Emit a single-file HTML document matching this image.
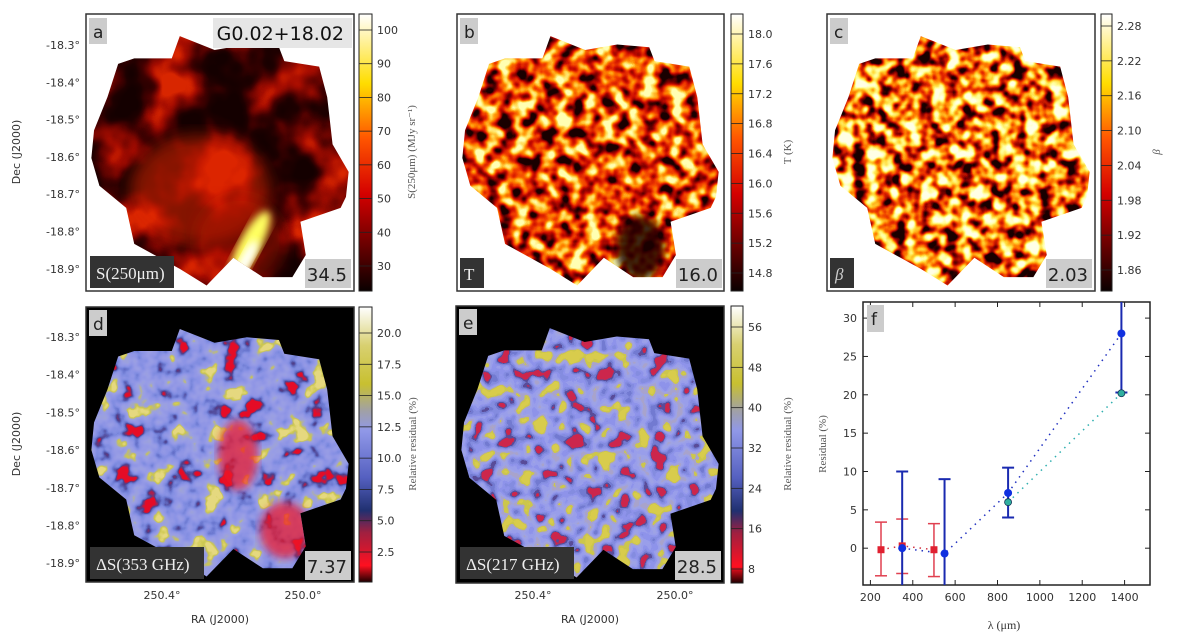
<!DOCTYPE html>
<html><head><meta charset="utf-8"><style>
body{margin:0;background:#fff;width:1200px;height:636px;overflow:hidden}
svg text{font-family:"DejaVu Sans","Liberation Sans",sans-serif}
.tk{font-size:11px;fill:#333}
.serif{font-family:"Liberation Serif","DejaVu Serif",serif}
</style></head><body>
<svg id="fig" width="1200" height="636" viewBox="0 0 1200 636" xmlns="http://www.w3.org/2000/svg">
<defs>
<clipPath id="cloud" clipPathUnits="objectBoundingBox">
<polygon points="0.03,0.42 0.08,0.3 0.12,0.18 0.18,0.16 0.32,0.16 0.35,0.08 0.48,0.13 0.6,0.11 0.72,0.12 0.74,0.17 0.87,0.19 0.9,0.3 0.92,0.47 0.98,0.57 0.97,0.66 0.95,0.70 0.80,0.75 0.82,0.87 0.77,0.95 0.66,0.95 0.55,0.88 0.45,0.98 0.35,0.92 0.18,0.83 0.15,0.70 0.05,0.62 0.02,0.52"/>
</clipPath>
<filter id="fa" x="0" y="0" width="1" height="1" color-interpolation-filters="sRGB">
<feTurbulence type="fractalNoise" baseFrequency="0.02" numOctaves="3" seed="4"/>
<feColorMatrix type="matrix" values="1 0 0 0 0 1 0 0 0 0 1 0 0 0 0 0 0 0 0 1"/>
<feComponentTransfer><feFuncR type="linear" slope="2.2" intercept="-0.65"/><feFuncG type="linear" slope="2.2" intercept="-0.65"/><feFuncB type="linear" slope="2.2" intercept="-0.65"/></feComponentTransfer>
<feComponentTransfer><feFuncR type="table" tableValues="0.08 0.12 0.25 0.45 0.65 0.85"/><feFuncG type="table" tableValues="0 0 0 0.02 0.05 0.15"/><feFuncB type="table" tableValues="0 0 0 0 0 0"/></feComponentTransfer>
</filter>
<filter id="fb" x="0" y="0" width="1" height="1" color-interpolation-filters="sRGB">
<feTurbulence type="fractalNoise" baseFrequency="0.07" numOctaves="2" seed="7"/>
<feColorMatrix type="matrix" values="1 0 0 0 0 1 0 0 0 0 1 0 0 0 0 0 0 0 0 1"/>
<feComponentTransfer><feFuncR type="linear" slope="2.4" intercept="-0.7"/><feFuncG type="linear" slope="2.4" intercept="-0.7"/><feFuncB type="linear" slope="2.4" intercept="-0.7"/></feComponentTransfer>
<feComponentTransfer><feFuncR type="table" tableValues="0.1 0.5 0.8 0.95 1 1 1"/><feFuncG type="table" tableValues="0 0 0.05 0.25 0.55 0.85 1"/><feFuncB type="table" tableValues="0 0 0 0 0 0.3 0.7"/></feComponentTransfer>
</filter>
<filter id="fc" x="0" y="0" width="1" height="1" color-interpolation-filters="sRGB">
<feTurbulence type="fractalNoise" baseFrequency="0.075" numOctaves="2" seed="11"/>
<feColorMatrix type="matrix" values="1 0 0 0 0 1 0 0 0 0 1 0 0 0 0 0 0 0 0 1"/>
<feComponentTransfer><feFuncR type="linear" slope="2.4" intercept="-0.72"/><feFuncG type="linear" slope="2.4" intercept="-0.72"/><feFuncB type="linear" slope="2.4" intercept="-0.72"/></feComponentTransfer>
<feComponentTransfer><feFuncR type="table" tableValues="0.1 0.55 0.9 1 1 1 1"/><feFuncG type="table" tableValues="0 0 0.15 0.5 0.85 1 1"/><feFuncB type="table" tableValues="0 0 0 0 0.2 0.6 0.9"/></feComponentTransfer>
</filter>
<filter id="fd" x="0" y="0" width="1" height="1" color-interpolation-filters="sRGB">
<feTurbulence type="fractalNoise" baseFrequency="0.045" numOctaves="3" seed="2"/>
<feColorMatrix type="matrix" values="1 0 0 0 0 1 0 0 0 0 1 0 0 0 0 0 0 0 0 1"/>
<feComponentTransfer><feFuncR type="linear" slope="2.2" intercept="-0.6"/><feFuncG type="linear" slope="2.2" intercept="-0.6"/><feFuncB type="linear" slope="2.2" intercept="-0.6"/></feComponentTransfer>
<feComponentTransfer><feFuncR type="table" tableValues="0.9 0.3 0.4 0.5 0.55 0.58 0.6 0.62 0.8 0.9"/><feFuncG type="table" tableValues="0.05 0.25 0.45 0.55 0.58 0.6 0.62 0.64 0.78 0.85"/><feFuncB type="table" tableValues="0.15 0.55 0.8 0.88 0.9 0.9 0.9 0.85 0.3 0.5"/></feComponentTransfer>
</filter>
<filter id="fe" x="0" y="0" width="1" height="1" color-interpolation-filters="sRGB">
<feTurbulence type="fractalNoise" baseFrequency="0.06" numOctaves="2" seed="9"/>
<feColorMatrix type="matrix" values="1 0 0 0 0 1 0 0 0 0 1 0 0 0 0 0 0 0 0 1"/>
<feComponentTransfer><feFuncR type="linear" slope="2.2" intercept="-0.6"/><feFuncG type="linear" slope="2.2" intercept="-0.6"/><feFuncB type="linear" slope="2.2" intercept="-0.6"/></feComponentTransfer>
<feComponentTransfer><feFuncR type="discrete" tableValues="0.8 0.35 0.45 0.52 0.56 0.6 0.62 0.66 0.8 0.85"/><feFuncG type="discrete" tableValues="0.15 0.3 0.48 0.55 0.58 0.62 0.64 0.64 0.78 0.8"/><feFuncB type="discrete" tableValues="0.3 0.6 0.82 0.88 0.92 0.92 0.9 0.8 0.3 0.3"/></feComponentTransfer>
</filter>
<filter id="blur8"><feGaussianBlur stdDeviation="8"/></filter>
<filter id="blur4"><feGaussianBlur stdDeviation="4"/></filter>
<linearGradient id="ghot" x1="0" y1="1" x2="0" y2="0">
<stop offset="0" stop-color="#0a0000"/><stop offset="0.35" stop-color="#d40000"/><stop offset="0.55" stop-color="#ff5500"/><stop offset="0.75" stop-color="#ffdd00"/><stop offset="1" stop-color="#ffffff"/></linearGradient>
<linearGradient id="gres" x1="0" y1="1" x2="0" y2="0">
<stop offset="0" stop-color="#200000"/><stop offset="0.06" stop-color="#ff1020"/><stop offset="0.18" stop-color="#a02040"/><stop offset="0.26" stop-color="#203070"/><stop offset="0.38" stop-color="#5560c0"/><stop offset="0.55" stop-color="#9098e8"/><stop offset="0.62" stop-color="#a0a0a8"/><stop offset="0.72" stop-color="#c8c030"/><stop offset="0.86" stop-color="#d8d070"/><stop offset="1" stop-color="#ffffff"/></linearGradient>
</defs>

<!-- Panel a -->
<g>
<rect x="86" y="14" width="268" height="277" fill="#fff" stroke="#333" stroke-width="1.5"/>
<g clip-path="url(#cloud)">
<rect x="86" y="14" width="268" height="277" filter="url(#fa)"/>
<ellipse cx="200" cy="190" rx="70" ry="55" fill="#e02800" opacity="0.55" filter="url(#blur8)"/>
<ellipse cx="240" cy="240" rx="45" ry="45" fill="#c01800" opacity="0.45" filter="url(#blur8)"/>
<ellipse cx="250" cy="245" rx="11" ry="38" transform="rotate(28 250 245)" fill="#ffff60" filter="url(#blur4)"/>
<ellipse cx="246" cy="260" rx="6" ry="22" transform="rotate(28 246 260)" fill="#ffffff" filter="url(#blur4)"/>
</g>
<rect x="89" y="18" width="18" height="26" fill="#ccc"/><text x="93" y="38" font-size="17" fill="#222">a</text>
<rect x="213" y="18" width="139" height="30" fill="#e6e6e6"/><text x="344" y="40" font-size="19" fill="#111" text-anchor="end">G0.02+18.02</text>
<rect x="90" y="256" width="84" height="32" fill="#333"/><text x="96" y="279" font-size="17" fill="#eee" class="serif">S(250μm)</text>
<rect x="305" y="259" width="46" height="29" fill="#ccc"/><text x="347" y="281" font-size="18" fill="#222" text-anchor="end">34.5</text>
</g>
<!-- Panel b -->
<g>
<rect x="457" y="14" width="267" height="277" fill="#fff" stroke="#333" stroke-width="1.5"/>
<g clip-path="url(#cloud)"><rect x="457" y="14" width="267" height="277" filter="url(#fb)"/>
<ellipse cx="640" cy="248" rx="24" ry="32" fill="#1a0000" opacity="0.85" filter="url(#blur4)"/></g>
<rect x="460" y="18" width="18" height="26" fill="#ccc"/><text x="464" y="38" font-size="17" fill="#222">b</text>
<rect x="460" y="258" width="24" height="30" fill="#333"/><text x="464" y="280" font-size="17" fill="#eee" class="serif">T</text>
<rect x="676" y="259" width="46" height="29" fill="#ccc"/><text x="718" y="281" font-size="18" fill="#222" text-anchor="end">16.0</text>
</g>
<!-- Panel c -->
<g>
<rect x="827" y="14" width="268" height="277" fill="#fff" stroke="#333" stroke-width="1.5"/>
<g clip-path="url(#cloud)"><rect x="827" y="14" width="268" height="277" filter="url(#fc)"/></g>
<rect x="830" y="18" width="18" height="26" fill="#ccc"/><text x="834" y="38" font-size="17" fill="#222">c</text>
<rect x="830" y="258" width="24" height="30" fill="#333"/><text x="835" y="280" font-size="17" fill="#ccc" class="serif" font-style="italic">β</text>
<rect x="1046" y="259" width="46" height="29" fill="#ccc"/><text x="1088" y="281" font-size="18" fill="#222" text-anchor="end">2.03</text>
</g>
<!-- Panel d -->
<g>
<rect x="86" y="307" width="268" height="275" fill="#000" stroke="#333" stroke-width="1.5"/>
<g clip-path="url(#cloud)"><rect x="86" y="307" width="268" height="275" filter="url(#fd)"/>
<ellipse cx="238" cy="455" rx="20" ry="35" fill="#f01828" opacity="0.7" filter="url(#blur4)"/>
<ellipse cx="285" cy="530" rx="25" ry="28" fill="#f01828" opacity="0.7" filter="url(#blur4)"/></g>
<rect x="89" y="310" width="18" height="26" fill="#ccc"/><text x="93" y="330" font-size="17" fill="#222">d</text>
<rect x="90" y="547" width="114" height="32" fill="#333"/><text x="96" y="570" font-size="17" fill="#eee" class="serif">ΔS(353 GHz)</text>
<rect x="305" y="551" width="46" height="29" fill="#ccc"/><text x="347" y="573" font-size="18" fill="#222" text-anchor="end">7.37</text>
</g>
<!-- Panel e -->
<g>
<rect x="456" y="306" width="268" height="277" fill="#000" stroke="#333" stroke-width="1.5"/>
<g clip-path="url(#cloud)"><rect x="456" y="306" width="268" height="277" filter="url(#fe)"/></g>
<rect x="459" y="309" width="18" height="26" fill="#ccc"/><text x="463" y="329" font-size="17" fill="#222">e</text>
<rect x="460" y="547" width="114" height="32" fill="#333"/><text x="466" y="570" font-size="17" fill="#eee" class="serif">ΔS(217 GHz)</text>
<rect x="675" y="551" width="46" height="29" fill="#ccc"/><text x="717" y="573" font-size="18" fill="#222" text-anchor="end">28.5</text>
</g>

<!-- colorbars -->
<rect x="359" y="14" width="13" height="277" fill="url(#ghot)" stroke="#222"/>
<rect x="731" y="14" width="12" height="277" fill="url(#ghot)" stroke="#222"/>
<rect x="1101" y="14" width="11" height="277" fill="url(#ghot)" stroke="#222"/>
<rect x="359" y="307" width="13" height="275" fill="url(#gres)" stroke="#222"/>
<rect x="731" y="306" width="12" height="277" fill="url(#gres)" stroke="#222"/>
<g id="cbticks"></g>
<g id="axlabels"></g>

<text transform="translate(415,152) rotate(-90)" font-size="11" fill="#555" text-anchor="middle" class="serif">S(250μm) (MJy sr⁻¹)</text>
<text transform="translate(791,152) rotate(-90)" font-size="11" fill="#555" text-anchor="middle" class="serif">T (K)</text>
<text transform="translate(1160,152) rotate(-90)" font-size="11" fill="#555" text-anchor="middle" class="serif" font-style="italic">β</text>
<text transform="translate(416,444) rotate(-90)" font-size="11" fill="#555" text-anchor="middle" class="serif">Relative residual (%)</text>
<text transform="translate(791,444) rotate(-90)" font-size="11" fill="#555" text-anchor="middle" class="serif">Relative residual (%)</text>
<text transform="translate(20,152) rotate(-90)" font-size="11" fill="#333" text-anchor="middle">Dec (J2000)</text>
<text transform="translate(20,444) rotate(-90)" font-size="11" fill="#333" text-anchor="middle">Dec (J2000)</text>
<text x="220" y="623" font-size="11" fill="#333" text-anchor="middle">RA (J2000)</text>
<text x="590" y="623" font-size="11" fill="#333" text-anchor="middle">RA (J2000)</text>

<!-- Panel f -->
<g id="pf"></g>
</svg>
<script>
const NS='http://www.w3.org/2000/svg';
function mk(tag,attrs,parent,txt){const e=document.createElementNS(NS,tag);for(const k in attrs)e.setAttribute(k,attrs[k]);if(txt!==undefined)e.textContent=txt;parent.appendChild(e);return e;}
// colorbar ticks
const cbS=['30','40','50','60','70','80','90','100'];
const cbT=['14.8','15.2','15.6','16.0','16.4','16.8','17.2','17.6','18.0'];
const cbB=['1.86','1.92','1.98','2.04','2.10','2.16','2.22','2.28'];
const cbD=['2.5','5.0','7.5','10.0','12.5','15.0','17.5','20.0'];
const cbE=['8','16','24','32','40','48','56'];
const cbg=document.getElementById('cbticks');
function cbar(labels,x,w,y0,y1,nm){
  labels.forEach((l,i)=>{const y=y0+(y1-y0)*i/(labels.length-1);
    const ln=mk('line',{x1:x,x2:x+w,y1:y,y2:y,stroke:'#222','stroke-width':0.8},cbg);
    
    
    const t=mk('text',{x:x+w+5,y:y+4,class:'tk'},cbg,l);
    
    });
}
cbar(cbS,359,13,266,30,'colorbar-s250');
cbar(cbT,731,12,273,34,'colorbar-temperature');
cbar(cbB,1101,11,270,26,'colorbar-beta');
cbar(cbD,359,13,552,333,'colorbar-residual-353');
cbar(cbE,731,12,569,327,'colorbar-residual-217');
// axis labels
const decLabels=['-18.3°','-18.4°','-18.5°','-18.6°','-18.7°','-18.8°','-18.9°'];
const raLabels=['250.4°','250.0°'];
const ax=document.getElementById('axlabels');
decLabels.forEach((l,i)=>{
  const a=mk('text',{x:80,y:45+i*37.3+4,class:'tk','text-anchor':'end'},ax,l);
  
  
  const b=mk('text',{x:80,y:337+i*37.7+4,class:'tk','text-anchor':'end'},ax,l);
  
  
});
raLabels.forEach((l,i)=>{
  [[162,303],[533,675]].forEach(xs=>{
    const t=mk('text',{x:xs[i],y:599,class:'tk','text-anchor':'middle'},ax,l);
    
    });
});

// Panel f data
const fxTicks=[200,400,600,800,1000,1200,1400];
const fyTicks=[0,5,10,15,20,25,30];
const redX=[250,350,500], redY=[-0.2,0.3,-0.2], redLo=[-3.6,-3.3,-3.7], redHi=[3.4,3.8,3.2];
const blueX=[350,550,850,1385], blueY=[0,-0.7,7.2,28], blueLo=[-6,-6,4,20.3], blueHi=[10,9,10.5,34];
const cyanX=[850,1385], cyanY=[6,20.2];
const X0=863,X1=1150,Y0=302,Y1=585;
const xd=[165,1520], yd=[-4.8,32.1];
const sx=v=>X0+(v-xd[0])/(xd[1]-xd[0])*(X1-X0);
const sy=v=>Y1-(v-yd[0])/(yd[1]-yd[0])*(Y1-Y0);
const pf=document.getElementById('pf');
const frame=mk('rect',{x:X0,y:Y0,width:X1-X0,height:Y1-Y0,fill:'#fff',stroke:'#222','stroke-width':1.5},pf);


const clip=mk('clipPath',{id:'fclip'},document.querySelector('defs'));
mk('rect',{x:X0,y:Y0,width:X1-X0,height:Y1-Y0},clip);
fxTicks.forEach(v=>{
  mk('line',{x1:sx(v),x2:sx(v),y1:Y1,y2:Y1-5,stroke:'#222'},pf);
  mk('line',{x1:sx(v),x2:sx(v),y1:Y0,y2:Y0+5,stroke:'#222'},pf);
  const t=mk('text',{x:sx(v),y:Y1+16,class:'tk','text-anchor':'middle'},pf,v);
  
  
});
fyTicks.forEach(v=>{
  mk('line',{x1:X0,x2:X0+5,y1:sy(v),y2:sy(v),stroke:'#222'},pf);
  mk('line',{x1:X1,x2:X1-5,y1:sy(v),y2:sy(v),stroke:'#222'},pf);
  const t=mk('text',{x:X0-6,y:sy(v)+4,class:'tk','text-anchor':'end'},pf,v);
  
  
});
const g=mk('g',{'clip-path':'url(#fclip)'},pf);
function line(xs,ys,col,nm){
  const l=mk('polyline',{points:xs.map((x,i)=>sx(x)+','+sy(ys[i])).join(' '),fill:'none',stroke:col,'stroke-width':1.5,'stroke-dasharray':'1.5 5'},g);
  
  
}
line(redX,redY,'#d03040','red-series-line');
line(blueX,blueY,'#2030c0','blue-series-line');
line(cyanX,cyanY,'#30b0b0','cyan-series-line');
function errs(xs,lo,hi,col,nm,w){
  xs.forEach((x,i)=>{
    const e=mk('g',{},g);
    
    
    mk('line',{x1:sx(x),x2:sx(x),y1:sy(lo[i]),y2:sy(hi[i]),stroke:col,'stroke-width':w},e);
    mk('line',{x1:sx(x)-6,x2:sx(x)+6,y1:sy(lo[i]),y2:sy(lo[i]),stroke:col,'stroke-width':w},e);
    mk('line',{x1:sx(x)-6,x2:sx(x)+6,y1:sy(hi[i]),y2:sy(hi[i]),stroke:col,'stroke-width':w},e);
  });
}
errs(redX,redLo,redHi,'#e04050','red-errorbar',1.5);
errs(blueX,blueLo,blueHi,'#1a2ab0',"blue-errorbar",2);
redX.forEach((x,i)=>{const r=mk('rect',{x:sx(x)-3.5,y:sy(redY[i])-3.5,width:7,height:7,fill:'#e02030'},g);
  
  });
blueX.forEach((x,i)=>{const c=mk('circle',{cx:sx(x),cy:sy(blueY[i]),r:4,fill:'#1030e0'},g);
  
  });
cyanX.forEach((x,i)=>{const c=mk('circle',{cx:sx(x),cy:sy(cyanY[i]),r:3.5,fill:'#30b0a0',stroke:'#135','stroke-width':0.8},g);
  
  });
const fl=mk('rect',{x:X0+4,y:Y0+3,width:17,height:27,fill:'#ccc'},pf);


mk('text',{x:X0+8,y:Y0+23,'font-size':17,fill:'#222'},pf,'f');
const yt=mk('text',{transform:'translate(826,444) rotate(-90)','font-size':11,fill:'#555','text-anchor':'middle',class:'serif'},pf,'Residual (%)');


const xt=mk('text',{x:1004,y:629,'font-size':12,fill:'#333','text-anchor':'middle',class:'serif'},pf,'λ (μm)');


</script>
</body></html>
